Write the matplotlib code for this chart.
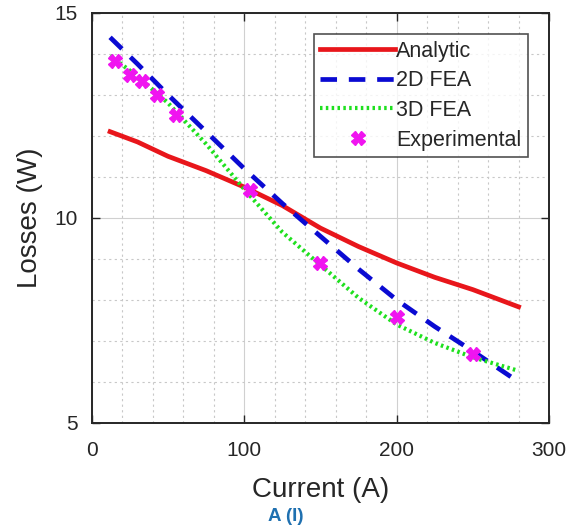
import numpy as np
import matplotlib.pyplot as plt
from matplotlib.ticker import MultipleLocator

plt.rcParams['font.family'] = ['Liberation Sans', 'DejaVu Sans']

# values
current = [12, 30, 50, 75, 100, 125, 150, 175, 200, 225, 250, 280]
analytic = [12.1, 11.85, 11.5, 11.15, 10.75, 10.3, 9.75, 9.3, 8.9, 8.55, 8.25, 7.83]
fea_2d = [14.4, 13.75, 13.0, 12.1, 11.2, 10.35, 9.55, 8.75, 8.0, 7.35, 6.75, 6.0]
fea_3d = [13.95, 13.45, 12.8, 11.8, 10.7, 9.65, 8.85, 8.05, 7.4, 6.95, 6.6, 6.27]
exp_current = [15, 25, 33, 43, 55, 104, 150, 200, 250]
exp_losses = [13.83, 13.49, 13.34, 13.0, 12.51, 10.68, 8.9, 7.59, 6.68]

fig = plt.figure(figsize=(5.81, 5.30), dpi=100)
ax = fig.add_axes([0.158, 0.202, 0.787, 0.774])

ax.plot(current, analytic, color='#e8161b', lw=3.4, label='Analytic')
ax.plot(current, fea_2d, color='#0a0ad2', lw=3.4, ls=(0, (3.5, 2.5)), label='2D FEA')
ax.plot(current, fea_3d, color='#1fe01f', lw=3.0, ls=(0, (0.6, 0.8)), label='3D FEA')
ax.plot(exp_current, exp_losses, ls='none', marker='X', ms=10, color='#f014f0',
        mec='#f014f0', label='Experimental')

ax.set_xlim(0, 300)
ax.set_ylim(5, 15)
ax.xaxis.set_major_locator(MultipleLocator(100))
ax.yaxis.set_major_locator(MultipleLocator(5))
ax.xaxis.set_minor_locator(MultipleLocator(20))
ax.yaxis.set_minor_locator(MultipleLocator(1))
ax.grid(which='major', color='#d0d0d0', lw=0.8, ls='-')
ax.grid(which='minor', color='#c8c8c8', lw=0.8, ls=(0, (2, 3)))
ax.set_axisbelow(True)
ax.tick_params(which='both', direction='in', top=True, right=True, labelsize=15,
               colors='#262626', width=1.0)
ax.tick_params(which='major', length=6)
ax.tick_params(axis='y', pad=10)
ax.tick_params(axis='x', pad=13)
ax.tick_params(which='minor', length=0)
for s in ax.spines.values():
    s.set_color('#262626')
    s.set_linewidth(1.4)

ax.set_xlabel('Current (A)', fontsize=20, color='#262626', labelpad=12)
ax.set_ylabel('Losses (W)', fontsize=20, color='#262626', labelpad=8)

leg = ax.legend(loc='upper right', fontsize=15.5, handlelength=3.45, handletextpad=0.05,
                borderaxespad=1.0, fancybox=False, edgecolor='#262626',
                labelspacing=0.4, borderpad=0.3)
leg.get_frame().set_linewidth(1.2)
for t in leg.get_texts():
    t.set_color('#262626')

fig.text(0.492, 0.01, 'A (I)', ha='center', va='bottom', fontsize=13.5,
         fontweight='bold', color='#1f70b0')

fig.savefig('out.png', dpi=100)
